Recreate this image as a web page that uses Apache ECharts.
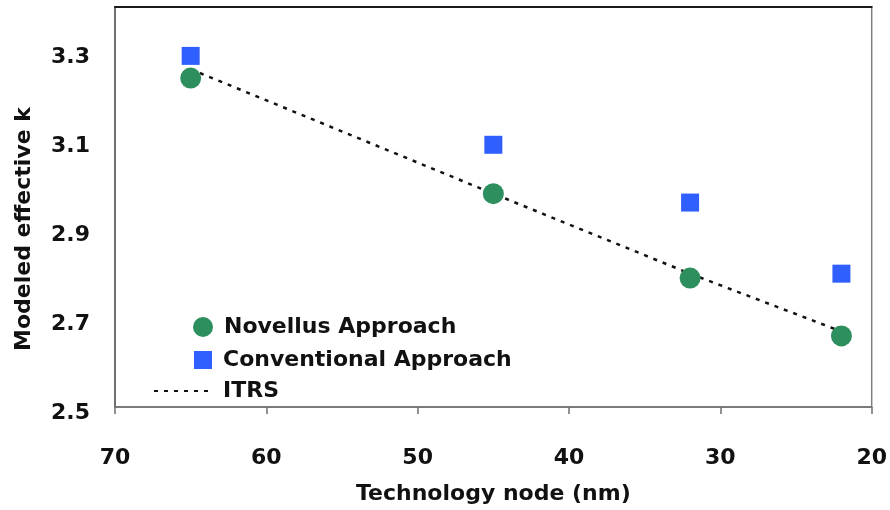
<!DOCTYPE html>
<html>
<head>
<meta charset="utf-8">
<script src="https://cdn.jsdelivr.net/npm/echarts@6/dist/echarts.min.js"></script>
<style>
  html, body { margin: 0; padding: 0; background: #fff; }
  #chart { width: 890px; height: 510px; }
</style>
</head>
<body>
<div id="chart"></div>
<script>
// technology node (nm)
const nodes = [65, 45, 32, 22]
const novellus = [3.24, 2.98, 2.79, 2.66]
const conventional = [3.29, 3.09, 2.96, 2.80]
const itrs = [3.26, 2.98, 2.80, 2.67]

const pairs = ys => nodes.map((x, i) => [x, ys[i]])

const font = 'DejaVu Sans, Liberation Sans, sans-serif'
const txt = { fontFamily: font, fontSize: 22, fontWeight: 'bold', color: '#111' }

const chart = echarts.init(document.getElementById('chart'))

const legendBase = {
  orient: 'vertical',
  padding: 0,
  selectedMode: false,
  textStyle: Object.assign({}, txt, { padding: [0, 0, 0, 6] })
}

const option = {
  backgroundColor: '#ffffff',
  animation: false,
  grid: {
    left: 115, top: 7, right: 15, bottom: 98,
    show: true, borderColor: '#808080', borderWidth: 1.5, backgroundColor: 'transparent'
  },
  legend: [
    Object.assign({}, legendBase, { data: ['Novellus Approach'], left: 193, top: 316, itemWidth: 20, itemHeight: 20 }),
    Object.assign({}, legendBase, { data: ['Conventional Approach'], left: 194, top: 349, itemWidth: 18, itemHeight: 18 }),
    Object.assign({}, legendBase, { data: ['ITRS'], left: 153, top: 380, itemWidth: 59, itemHeight: 20,
      itemStyle: { opacity: 0 },
      textStyle: Object.assign({}, txt, { padding: [0, 0, 0, 5] }) })
  ],
  xAxis: [
    {
      type: 'value',
      inverse: true,
      min: 20, max: 70, interval: 10,
      name: 'Technology node (nm)',
      nameLocation: 'middle',
      nameGap: 76,
      nameTextStyle: txt,
      axisLine: { lineStyle: { color: '#707070', width: 1.5 } },
      axisTick: { show: true, inside: false, length: 7, lineStyle: { color: '#707070', width: 1.5 } },
      axisLabel: Object.assign({}, txt, { margin: 40 }),
      splitLine: { show: false }
    },
    {
      type: 'value',
      position: 'top',
      inverse: true,
      min: 20, max: 70,
      axisLine: { show: true, lineStyle: { color: '#1a1a1a', width: 2 } },
      axisTick: { show: false },
      axisLabel: { show: false },
      splitLine: { show: false }
    }
  ],
  yAxis: {
    type: 'value',
    min: 2.5, max: 3.4, interval: 0.2,
    name: 'Modeled effective k',
    nameLocation: 'middle',
    nameGap: 80,
    nameTextStyle: Object.assign({}, txt, { padding: [0, 44, 0, 0] }),
    axisLine: { show: true, lineStyle: { color: '#606060', width: 1.5 } },
    axisTick: { show: false },
    axisLabel: Object.assign({}, txt, {
      margin: 25,
      showMaxLabel: false,
      verticalAlign: 'top',
      lineHeight: 12,
      formatter: v => v.toFixed(1)
    }),
    splitLine: { show: false }
  },
  series: [
    {
      name: 'ITRS',
      type: 'line',
      data: pairs(itrs),
      symbol: 'none',
      lineStyle: { color: '#111', width: 2.5, type: [4, 6] },
      itemStyle: { color: '#111' },
      z: 1
    },
    {
      name: 'Novellus Approach',
      type: 'scatter',
      data: pairs(novellus),
      symbol: 'circle',
      symbolSize: 21,
      itemStyle: { color: '#2e8f5e', opacity: 1 },
      z: 3
    },
    {
      name: 'Conventional Approach',
      type: 'scatter',
      data: pairs(conventional),
      symbol: 'rect',
      symbolSize: 18,
      itemStyle: { color: '#2f5fff', opacity: 1 },
      z: 3
    }
  ]
}

chart.setOption(option)
</script>
</body>
</html>
